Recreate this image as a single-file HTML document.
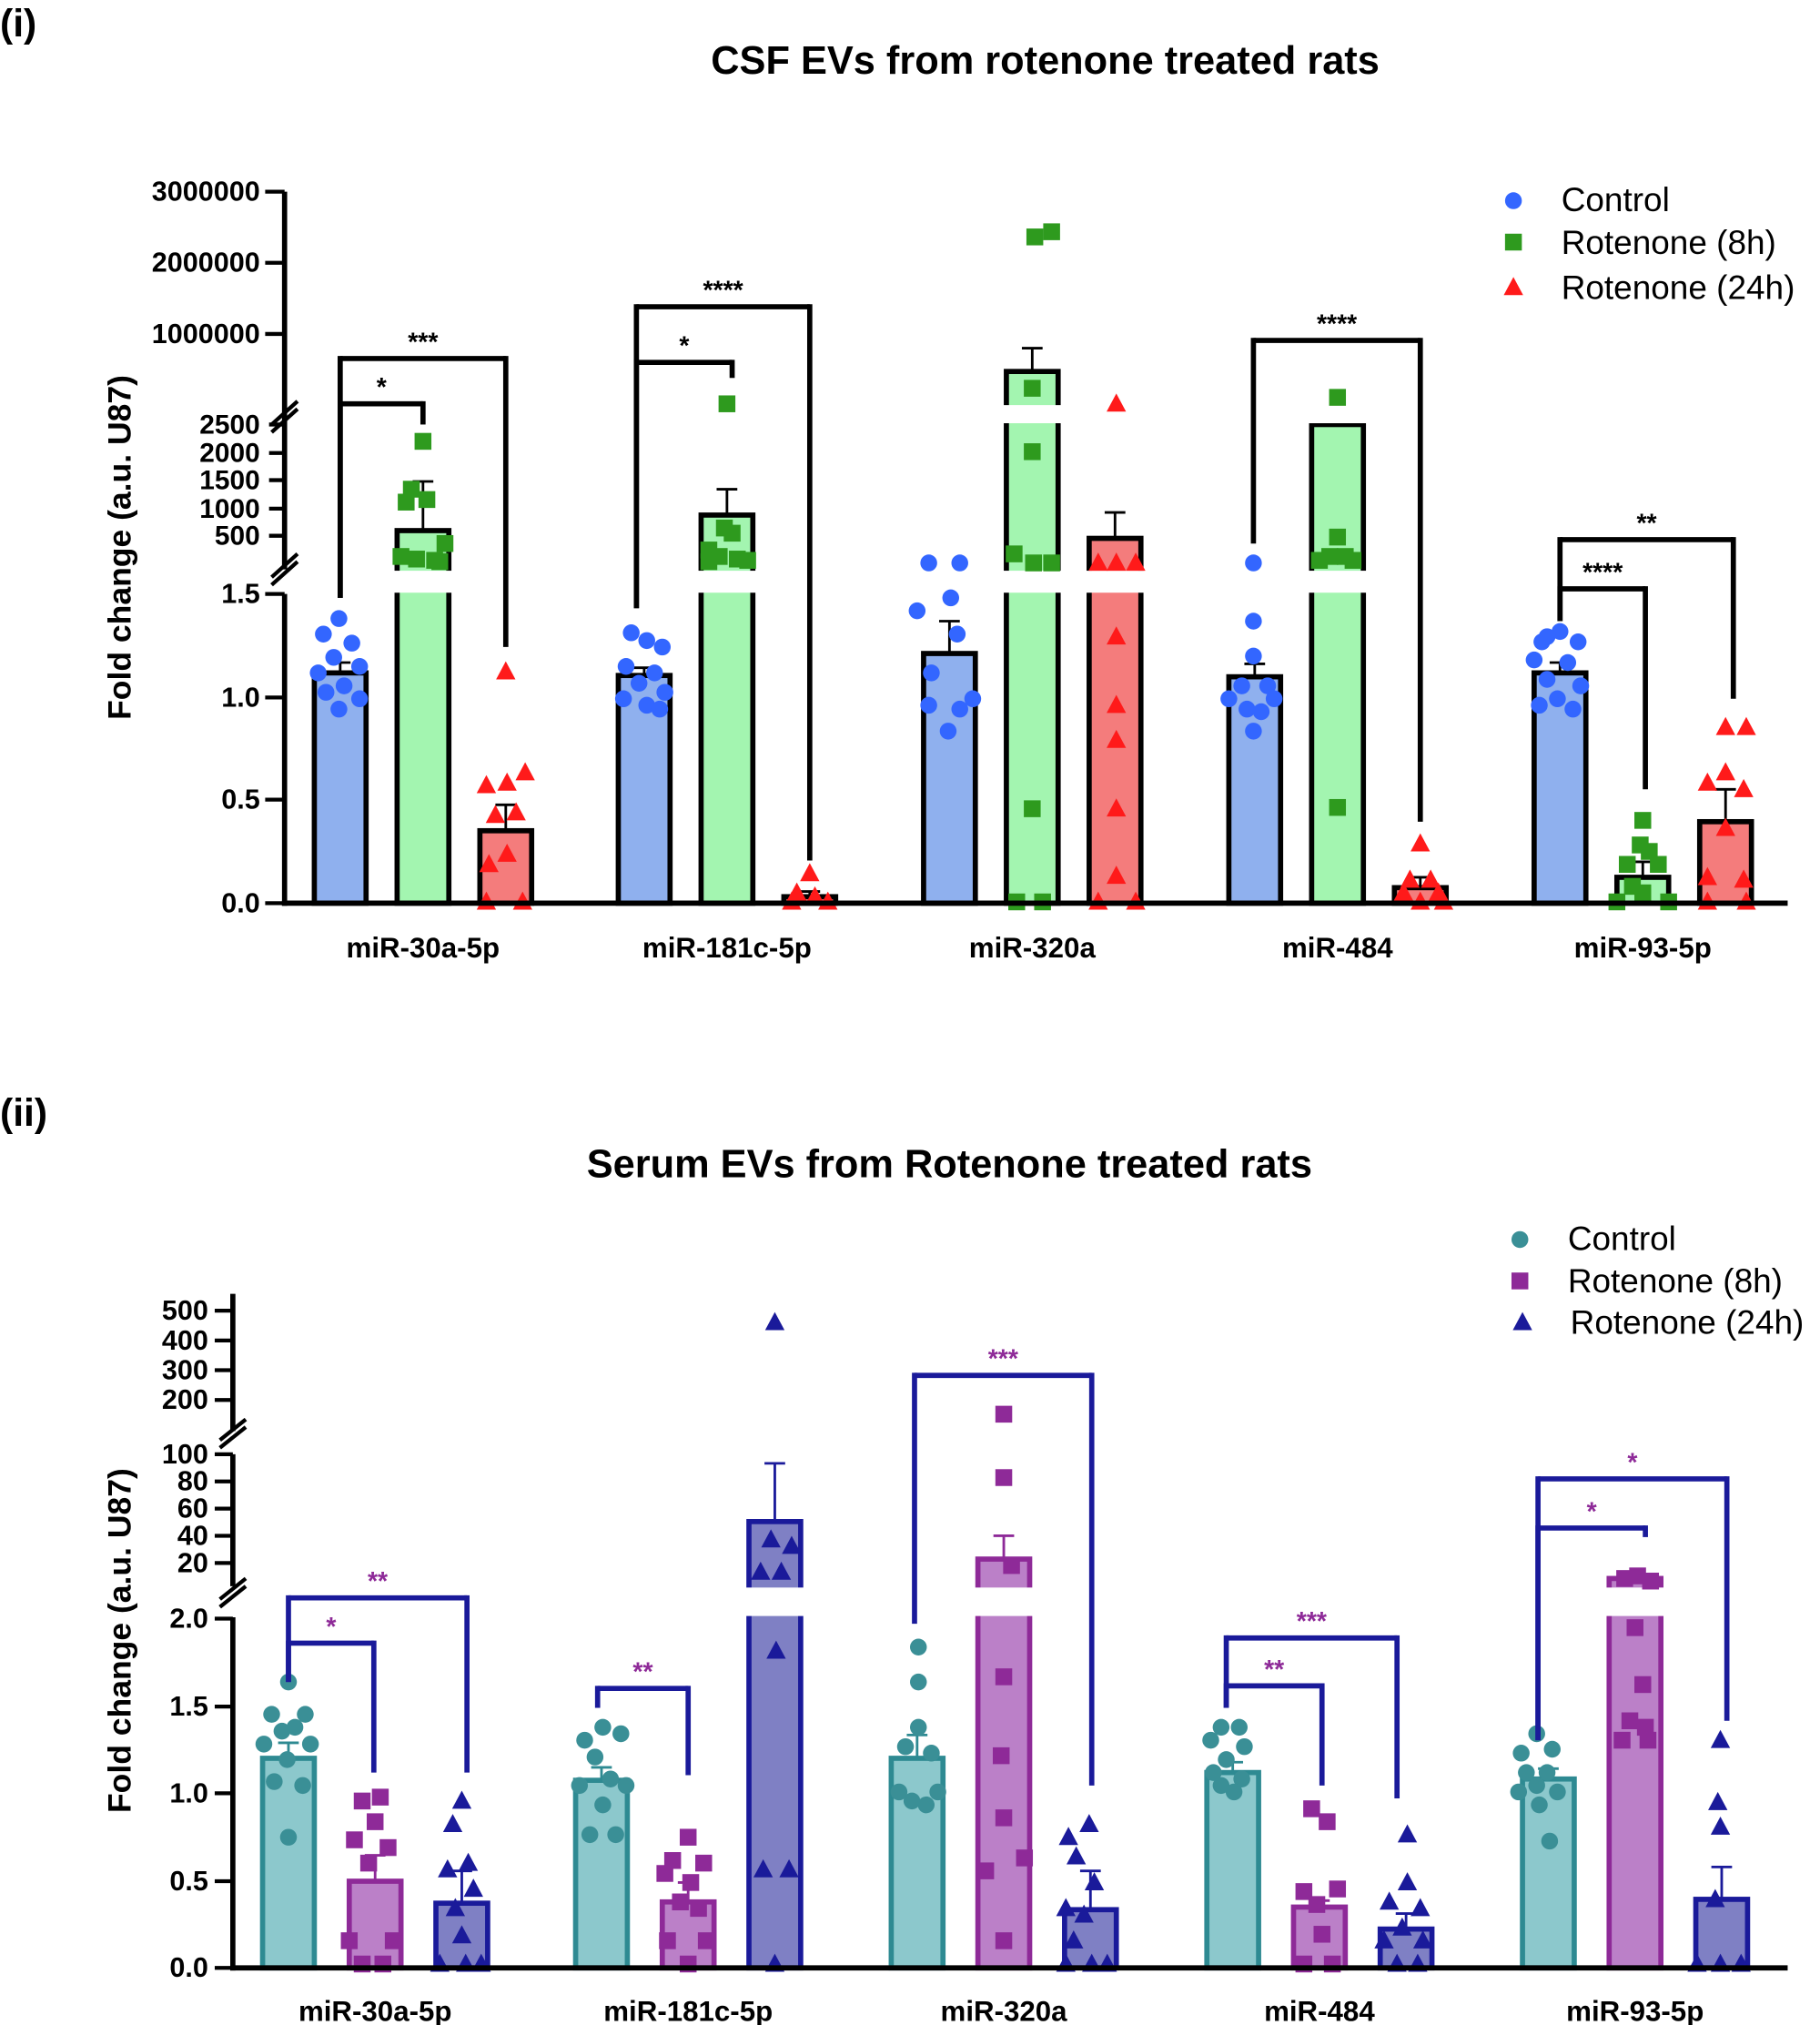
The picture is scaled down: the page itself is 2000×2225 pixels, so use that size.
<!DOCTYPE html>
<html><head><meta charset="utf-8"><style>
html,body{margin:0;padding:0;background:#fff;}
svg{display:block;font-family:"Liberation Sans",Arial,sans-serif;}
</style></head><body>
<svg id="s" width="2000" height="2225" viewBox="0 0 1407 1565" xmlns="http://www.w3.org/2000/svg">
<rect width="1407" height="1565" fill="#fff"/>
<g id="g"></g>
<text x="0" y="28" font-size="30" font-weight="bold">(i)</text>
<text x="808" y="57" font-size="30.5" font-weight="bold" text-anchor="middle">CSF EVs from rotenone treated rats</text>
<text x="0" y="870" font-size="30" font-weight="bold">(ii)</text>
<text x="734" y="910" font-size="30.5" font-weight="bold" text-anchor="middle">Serum EVs from Rotenone treated rats</text>
<text transform="translate(101,423) rotate(-90)" font-size="25" font-weight="bold" text-anchor="middle">Fold change (a.u. U87)</text>
<text transform="translate(101,1268) rotate(-90)" font-size="25" font-weight="bold" text-anchor="middle">Fold change (a.u. U87)</text>
</svg>
<script>
const g=document.getElementById('g');let h='';
function L(x1,y1,x2,y2,c,w){h+=`<line x1="${x1}" y1="${y1}" x2="${x2}" y2="${y2}" stroke="${c}" stroke-width="${w}"/>`;}
function T(x,y,t,s,a,c,wt){h+=`<text x="${x}" y="${y}" font-size="${s}" text-anchor="${a||'end'}" fill="${c||'#000'}" font-weight="${wt||'bold'}">${t}</text>`;}
function R(x,y,w,hh,f,st,sw){h+=`<rect x="${x}" y="${y}" width="${w}" height="${hh}" fill="${f}" stroke="${st||'none'}" stroke-width="${sw||0}"/>`;}
function dot(x,y,c){h+=`<circle cx="${x}" cy="${y}" r="6.5" fill="${c}"/>`;}
function sq(x,y,c){R(x-6.5,y-6.5,13,13,c);}
function tri(x,y,c){h+=`<polygon points="${x},${y-8} ${x-7.5},${y+6} ${x+7.5},${y+6}" fill="${c}"/>`;}
// ===== Panel i =====
const base1=698;
const c1=[327,562,798,1034,1270];
const cols1=[['#8fb0ee','#3366ff',dot],['#a3f5b0','#2e9a1e',sq],['#f47c7c','#ff1a1a',tri]];
const tops1=[[520,410,642],[522,398,693],[505,287,416],[523,328,686],[520,678,635]];
const err1=[[8,38,20],[6,20,4],[25,18,20],[10,0,8],[8,12,25]];
c1.forEach((c,i)=>{[-64,0,64].forEach((o,j)=>{const t=tops1[i][j];R(c+o-20,t,40,base1-t,cols1[j][0],'#000',4);
L(c+o,t,c+o,t-err1[i][j],'#000',2);L(c+o-8,t-err1[i][j],c+o+8,t-err1[i][j],'#000',2);});});
R(222,441,1170,17,'#fff');R(222,313,1170,14,'#fff');
const pts1=[
[[262,478],[250,490],[272,497],[258,508],[278,515],[246,520],[266,530],[252,535],[278,540],[262,548]],
[[327,341],[318,378],[330,386],[314,388],[310,430],[322,432],[336,433],[344,420],[340,434]],
[[391,519],[376,607],[392,605],[406,597],[383,630],[399,628],[378,668],[392,660],[376,697],[404,697]],
[[488,489],[500,495],[512,500],[484,515],[506,520],[494,528],[514,535],[482,540],[500,545],[510,548]],
[[562,312],[560,408],[566,412],[548,425],[556,430],[570,432],[578,433],[548,434]],
[[626,675],[616,690],[630,693],[612,697],[640,697]],
[[718,435],[742,435],[735,462],[709,472],[740,490],[720,520],[752,540],[718,545],[742,548],[733,565]],
[[800,183],[813,179],[798,300],[798,349],[784,428],[799,435],[813,435],[798,625],[786,697],[806,697]],
[[863,312],[849,435],[863,435],[878,435],[863,492],[863,545],[863,572],[863,625],[863,677],[849,697],[878,697]],
[[969,435],[969,480],[969,507],[960,530],[980,530],[950,540],[985,540],[964,548],[975,550],[969,565]],
[[1034,307],[1034,415],[1028,430],[1040,430],[1020,433],[1046,433],[1034,624]],
[[1098,652],[1090,680],[1106,680],[1085,690],[1112,690],[1098,697],[1116,697]],
[[1206,488],[1192,496],[1220,496],[1186,510],[1212,512],[1196,525],[1222,530],[1204,540],[1190,545],[1216,548],[1196,492]],
[[1270,634],[1268,653],[1275,658],[1258,668],[1282,668],[1262,685],[1270,690],[1250,697],[1290,697]],
[[1334,562],[1350,562],[1320,605],[1334,597],[1348,610],[1334,640],[1320,678],[1348,680],[1320,697],[1350,697]]];
pts1.forEach((a,k)=>{const cc=cols1[k%3];a.forEach(p=>cc[2](p[0],p[1],cc[1]));});
L(220,148,220,440,'#000',4);L(220,459,220,700,'#000',4);L(218,698,1382,698,'#000',4);
[[148,'3000000'],[203,'2000000'],[258,'1000000']].forEach(t=>{L(205,t[0],220,t[0],'#000',3);T(201,t[0]+7,t[1],21.5);});
[[328,'2500'],[350,'2000'],[371,'1500'],[393,'1000'],[414,'500']].forEach(t=>{L(208,t[0],220,t[0],'#000',3);T(201,t[0]+7,t[1],21);});
[[459,'1.5'],[539,'1.0'],[618,'0.5'],[698,'0.0']].forEach(t=>{L(205,t[0],220,t[0],'#000',3);T(201,t[0]+7,t[1],21.5);});
L(210,328,230,310,'#000',3);L(210,334,230,316,'#000',3);L(210,446,230,428,'#000',3);L(210,452,230,434,'#000',3);
['miR-30a-5p','miR-181c-5p','miR-320a','miR-484','miR-93-5p'].forEach((t,i)=>T(c1[i],740,t,22,'middle'));
function br(x1,x2,y,y1,y2,c,lab,lc,ly){L(x1,y,x2,y,c,4);L(x1,y-2,x1,y1,c,4);L(x2,y-2,x2,y2,c,4);T((x1+x2)/2,ly||y-6,lab,20,'middle',lc||c);}
br(263,327,312,462,328,'#000','*');br(263,391,277,462,500,'#000','***');
br(492,566,280,470,292,'#000','*');br(492,626,237,470,665,'#000','****');
br(969,1098,263,420,635,'#000','****');
br(1206,1340,417,480,540,'#000','**');br(1206,1272,455,480,610,'#000','****');
dot(1170,155,'#3366ff');T(1207,163,'Control',26,'start','#000','normal');
sq(1170,187,'#2e9a1e');T(1207,196,'Rotenone (8h)',26,'start','#000','normal');
tri(1170,222,'#ff1a1a');T(1207,231,'Rotenone (24h)',26,'start','#000','normal');
// ===== Panel ii =====
const base2=1521;const c2=[290,532,776,1020,1264];
const cols2=[['#8cc8cc','#3a8f96',dot,'#2e8a92'],['#bb80c8','#8e2a98',sq,'#8e2a98'],['#7f80c4','#1a1a9a',tri,'#1a1a9a']];
const tops2=[[1359,1454,1471],[1376,1470,1176],[1359,1205,1476],[1370,1474,1491],[1375,1220,1468]];
const err2=[[12,20,25],[10,15,45],[18,18,30],[8,5,12],[8,0,25]];
c2.forEach((c,i)=>{[-67,0,67].forEach((o,j)=>{const t=tops2[i][j];const col=cols2[j];R(c+o-20,t,40,base2-t,col[0],col[3],4);
const e=err2[i][j];L(c+o,t,c+o,t-e,col[3],2);L(c+o-8,t-e,c+o+8,t-e,col[3],2);});});
R(182,1227,1200,22,'#fff');
const pts2=[
[[223,1300],[210,1325],[236,1325],[218,1338],[228,1335],[204,1348],[240,1348],[222,1360],[212,1377],[234,1380],[223,1420]],
[[294,1389],[280,1392],[290,1408],[274,1422],[300,1428],[285,1440],[270,1500],[304,1500],[280,1518],[296,1518]],
[[357,1392],[350,1410],[362,1440],[346,1445],[366,1460],[352,1475],[340,1518],[360,1518],[372,1518],[357,1496]],
[[466,1335],[452,1345],[480,1340],[460,1358],[472,1375],[448,1380],[484,1380],[466,1395],[456,1418],[476,1418]],
[[532,1420],[520,1438],[544,1440],[514,1448],[534,1455],[526,1470],[540,1475],[516,1500],[546,1500],[532,1518]],
[[599,1022],[596,1190],[612,1195],[588,1215],[604,1215],[600,1276],[590,1445],[610,1445],[599,1518]],
[[710,1273],[710,1300],[710,1335],[700,1350],[720,1355],[695,1385],[725,1385],[705,1392],[716,1395]],
[[776,1093],[776,1142],[782,1210],[776,1296],[774,1357],[776,1405],[762,1446],[792,1436],[776,1500]],
[[826,1420],[842,1410],[832,1435],[846,1455],[824,1475],[838,1480],[830,1500],[824,1518],[844,1518],[856,1518]],
[[944,1335],[958,1335],[936,1345],[962,1350],[948,1360],[938,1370],[960,1375],[944,1380],[954,1385]],
[[1014,1398],[1026,1408],[1008,1462],[1034,1460],[1018,1472],[1022,1495],[1008,1518],[1030,1518]],
[[1088,1418],[1088,1455],[1074,1470],[1098,1475],[1084,1490],[1070,1500],[1100,1500],[1080,1518],[1096,1518]],
[[1188,1340],[1176,1355],[1200,1352],[1180,1370],[1196,1370],[1188,1380],[1174,1385],[1204,1385],[1190,1395],[1198,1423]],
[[1256,1220],[1266,1218],[1276,1222],[1264,1258],[1270,1302],[1260,1330],[1272,1335],[1254,1345],[1274,1345]],
[[1330,1345],[1328,1393],[1330,1412],[1326,1468],[1312,1518],[1330,1518],[1346,1518]]];
pts2.forEach((a,k)=>{const cc=cols2[k%3];a.forEach(p=>cc[2](p[0],p[1],cc[1]));});
L(180,1000,180,1106,'#000',4);L(180,1124,180,1226,'#000',4);L(180,1250,180,1523,'#000',4);L(178,1521,1382,1521,'#000',4);
[[1013,'500'],[1036,'400'],[1059,'300'],[1082,'200']].forEach(t=>{L(166,t[0],180,t[0],'#000',3);T(161,t[0]+7,t[1],21.5);});
[[1124,'100'],[1145,'80'],[1166,'60'],[1187,'40'],[1208,'20']].forEach(t=>{L(166,t[0],180,t[0],'#000',3);T(161,t[0]+7,t[1],21.5);});
[[1251,'2.0'],[1319,'1.5'],[1386,'1.0'],[1454,'0.5'],[1521,'0.0']].forEach(t=>{L(166,t[0],180,t[0],'#000',3);T(161,t[0]+7,t[1],21.5);});
L(170,1113,190,1097,'#000',3);L(170,1119,190,1103,'#000',3);L(170,1236,190,1220,'#000',3);L(170,1242,190,1226,'#000',3);
['miR-30a-5p','miR-181c-5p','miR-320a','miR-484','miR-93-5p'].forEach((t,i)=>T(c2[i],1562,t,22,'middle'));
const nv='#1a1a9a',pu='#8e2a98';
br(223,289,1270,1300,1370,nv,'*',pu);br(223,361,1235,1300,1370,nv,'**',pu);
br(462,532,1305,1320,1372,nv,'**',pu);
br(707,844,1063,1255,1380,nv,'***',pu);
br(948,1022,1303,1320,1380,nv,'**',pu);br(948,1080,1266,1320,1390,nv,'***',pu);
br(1189,1272,1181,1345,1188,nv,'*',pu);br(1189,1335,1143,1345,1330,nv,'*',pu);
dot(1175,958,'#3a8f96');T(1212,966,'Control',26,'start','#000','normal');
sq(1175,990,'#8e2a98');T(1212,999,'Rotenone (8h)',26,'start','#000','normal');
tri(1177,1022,'#1a1a9a');T(1214,1031,'Rotenone (24h)',26,'start','#000','normal');
g.innerHTML=h;
</script>
</body></html>
